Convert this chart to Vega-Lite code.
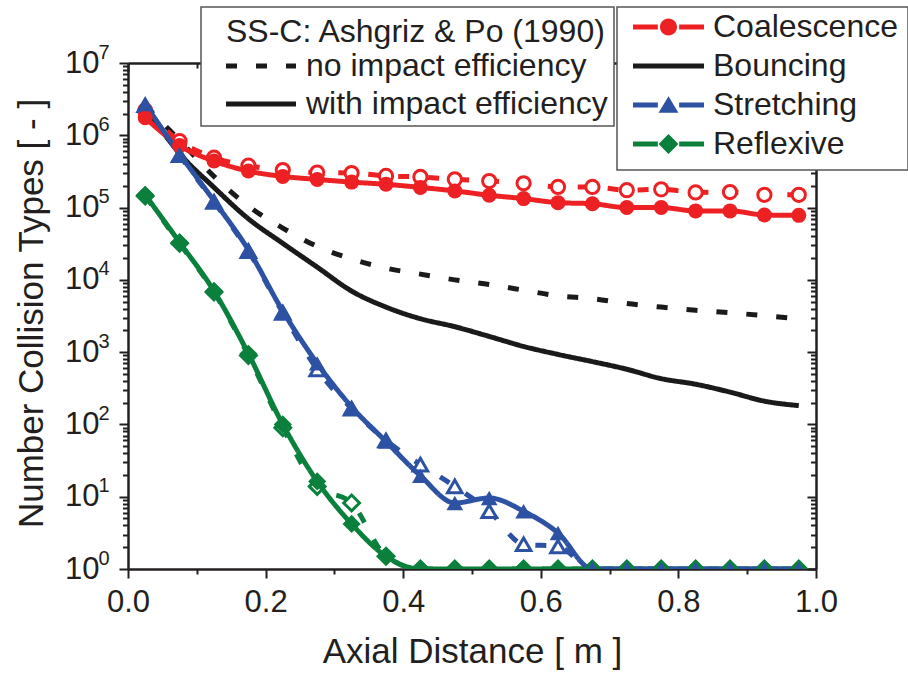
{
  "$schema": "https://vega.github.io/schema/vega-lite/v6.json",
  "width": 688,
  "height": 506,
  "autosize": {"type": "none"},
  "padding": {"left": 128, "top": 63, "right": 92, "bottom": 104},
  "background": "white",
  "config": {
    "font": "Liberation Sans",
    "view": {"stroke": null},
    "axis": {"grid": false, "labelFont": "Liberation Sans", "titleFont": "Liberation Sans", "domainColor": "#231F20", "tickColor": "#231F20", "labelColor": "#231F20", "titleColor": "#231F20", "domainWidth": 2.5, "tickWidth": 2, "titleFontWeight": "normal"},
    "legend": {"labelFont": "Liberation Sans", "titleFont": "Liberation Sans", "labelColor": "#231F20", "titleColor": "#231F20", "labelLimit": 0, "titleLimit": 0, "titleFontWeight": "normal", "strokeColor": "#555555", "fillColor": "white"}
  },
  "datasets": {
    "main": [
      {"distance": 0.025, "type": "Bouncing", "efficiency": "with impact efficiency", "count": 2500000},
      {"distance": 0.075, "type": "Bouncing", "efficiency": "with impact efficiency", "count": 560000},
      {"distance": 0.125, "type": "Bouncing", "efficiency": "with impact efficiency", "count": 190000},
      {"distance": 0.175, "type": "Bouncing", "efficiency": "with impact efficiency", "count": 70000},
      {"distance": 0.225, "type": "Bouncing", "efficiency": "with impact efficiency", "count": 32000},
      {"distance": 0.275, "type": "Bouncing", "efficiency": "with impact efficiency", "count": 15000},
      {"distance": 0.325, "type": "Bouncing", "efficiency": "with impact efficiency", "count": 7000},
      {"distance": 0.375, "type": "Bouncing", "efficiency": "with impact efficiency", "count": 4200},
      {"distance": 0.425, "type": "Bouncing", "efficiency": "with impact efficiency", "count": 2900},
      {"distance": 0.475, "type": "Bouncing", "efficiency": "with impact efficiency", "count": 2250},
      {"distance": 0.525, "type": "Bouncing", "efficiency": "with impact efficiency", "count": 1650},
      {"distance": 0.575, "type": "Bouncing", "efficiency": "with impact efficiency", "count": 1200},
      {"distance": 0.625, "type": "Bouncing", "efficiency": "with impact efficiency", "count": 930},
      {"distance": 0.675, "type": "Bouncing", "efficiency": "with impact efficiency", "count": 740},
      {"distance": 0.725, "type": "Bouncing", "efficiency": "with impact efficiency", "count": 580},
      {"distance": 0.775, "type": "Bouncing", "efficiency": "with impact efficiency", "count": 430},
      {"distance": 0.825, "type": "Bouncing", "efficiency": "with impact efficiency", "count": 360},
      {"distance": 0.875, "type": "Bouncing", "efficiency": "with impact efficiency", "count": 280},
      {"distance": 0.925, "type": "Bouncing", "efficiency": "with impact efficiency", "count": 210},
      {"distance": 0.975, "type": "Bouncing", "efficiency": "with impact efficiency", "count": 182},
      {"distance": 0.025, "type": "Bouncing", "efficiency": "no impact efficiency", "count": 2600000},
      {"distance": 0.075, "type": "Bouncing", "efficiency": "no impact efficiency", "count": 850000},
      {"distance": 0.125, "type": "Bouncing", "efficiency": "no impact efficiency", "count": 270000},
      {"distance": 0.175, "type": "Bouncing", "efficiency": "no impact efficiency", "count": 105000},
      {"distance": 0.225, "type": "Bouncing", "efficiency": "no impact efficiency", "count": 52000},
      {"distance": 0.275, "type": "Bouncing", "efficiency": "no impact efficiency", "count": 29000},
      {"distance": 0.325, "type": "Bouncing", "efficiency": "no impact efficiency", "count": 19500},
      {"distance": 0.375, "type": "Bouncing", "efficiency": "no impact efficiency", "count": 14500},
      {"distance": 0.425, "type": "Bouncing", "efficiency": "no impact efficiency", "count": 12000},
      {"distance": 0.475, "type": "Bouncing", "efficiency": "no impact efficiency", "count": 10000},
      {"distance": 0.525, "type": "Bouncing", "efficiency": "no impact efficiency", "count": 8600},
      {"distance": 0.575, "type": "Bouncing", "efficiency": "no impact efficiency", "count": 7200},
      {"distance": 0.625, "type": "Bouncing", "efficiency": "no impact efficiency", "count": 6000},
      {"distance": 0.675, "type": "Bouncing", "efficiency": "no impact efficiency", "count": 5500},
      {"distance": 0.725, "type": "Bouncing", "efficiency": "no impact efficiency", "count": 4700},
      {"distance": 0.775, "type": "Bouncing", "efficiency": "no impact efficiency", "count": 4200},
      {"distance": 0.825, "type": "Bouncing", "efficiency": "no impact efficiency", "count": 3800},
      {"distance": 0.875, "type": "Bouncing", "efficiency": "no impact efficiency", "count": 3500},
      {"distance": 0.925, "type": "Bouncing", "efficiency": "no impact efficiency", "count": 3200},
      {"distance": 0.975, "type": "Bouncing", "efficiency": "no impact efficiency", "count": 2900},
      {"distance": 0.025, "type": "Coalescence", "efficiency": "with impact efficiency", "count": 1750000},
      {"distance": 0.075, "type": "Coalescence", "efficiency": "with impact efficiency", "count": 720000},
      {"distance": 0.125, "type": "Coalescence", "efficiency": "with impact efficiency", "count": 440000},
      {"distance": 0.175, "type": "Coalescence", "efficiency": "with impact efficiency", "count": 320000},
      {"distance": 0.225, "type": "Coalescence", "efficiency": "with impact efficiency", "count": 270000},
      {"distance": 0.275, "type": "Coalescence", "efficiency": "with impact efficiency", "count": 245000},
      {"distance": 0.325, "type": "Coalescence", "efficiency": "with impact efficiency", "count": 225000},
      {"distance": 0.375, "type": "Coalescence", "efficiency": "with impact efficiency", "count": 210000},
      {"distance": 0.425, "type": "Coalescence", "efficiency": "with impact efficiency", "count": 190000},
      {"distance": 0.475, "type": "Coalescence", "efficiency": "with impact efficiency", "count": 170000},
      {"distance": 0.525, "type": "Coalescence", "efficiency": "with impact efficiency", "count": 148000},
      {"distance": 0.575, "type": "Coalescence", "efficiency": "with impact efficiency", "count": 133000},
      {"distance": 0.625, "type": "Coalescence", "efficiency": "with impact efficiency", "count": 117000},
      {"distance": 0.675, "type": "Coalescence", "efficiency": "with impact efficiency", "count": 113000},
      {"distance": 0.725, "type": "Coalescence", "efficiency": "with impact efficiency", "count": 100000},
      {"distance": 0.775, "type": "Coalescence", "efficiency": "with impact efficiency", "count": 100000},
      {"distance": 0.825, "type": "Coalescence", "efficiency": "with impact efficiency", "count": 90000},
      {"distance": 0.875, "type": "Coalescence", "efficiency": "with impact efficiency", "count": 90000},
      {"distance": 0.925, "type": "Coalescence", "efficiency": "with impact efficiency", "count": 79000},
      {"distance": 0.975, "type": "Coalescence", "efficiency": "with impact efficiency", "count": 78000},
      {"distance": 0.025, "type": "Coalescence", "efficiency": "no impact efficiency", "count": 2200000},
      {"distance": 0.075, "type": "Coalescence", "efficiency": "no impact efficiency", "count": 830000},
      {"distance": 0.125, "type": "Coalescence", "efficiency": "no impact efficiency", "count": 490000},
      {"distance": 0.175, "type": "Coalescence", "efficiency": "no impact efficiency", "count": 380000},
      {"distance": 0.225, "type": "Coalescence", "efficiency": "no impact efficiency", "count": 330000},
      {"distance": 0.275, "type": "Coalescence", "efficiency": "no impact efficiency", "count": 305000},
      {"distance": 0.325, "type": "Coalescence", "efficiency": "no impact efficiency", "count": 300000},
      {"distance": 0.375, "type": "Coalescence", "efficiency": "no impact efficiency", "count": 274000},
      {"distance": 0.425, "type": "Coalescence", "efficiency": "no impact efficiency", "count": 265000},
      {"distance": 0.475, "type": "Coalescence", "efficiency": "no impact efficiency", "count": 246000},
      {"distance": 0.525, "type": "Coalescence", "efficiency": "no impact efficiency", "count": 233000},
      {"distance": 0.575, "type": "Coalescence", "efficiency": "no impact efficiency", "count": 217000},
      {"distance": 0.625, "type": "Coalescence", "efficiency": "no impact efficiency", "count": 193000},
      {"distance": 0.675, "type": "Coalescence", "efficiency": "no impact efficiency", "count": 193000},
      {"distance": 0.725, "type": "Coalescence", "efficiency": "no impact efficiency", "count": 174000},
      {"distance": 0.775, "type": "Coalescence", "efficiency": "no impact efficiency", "count": 179000},
      {"distance": 0.825, "type": "Coalescence", "efficiency": "no impact efficiency", "count": 162000},
      {"distance": 0.875, "type": "Coalescence", "efficiency": "no impact efficiency", "count": 164000},
      {"distance": 0.925, "type": "Coalescence", "efficiency": "no impact efficiency", "count": 150000},
      {"distance": 0.975, "type": "Coalescence", "efficiency": "no impact efficiency", "count": 150000},
      {"distance": 0.025, "type": "Reflexive", "efficiency": "with impact efficiency", "count": 150000},
      {"distance": 0.075, "type": "Reflexive", "efficiency": "with impact efficiency", "count": 33000},
      {"distance": 0.125, "type": "Reflexive", "efficiency": "with impact efficiency", "count": 7000},
      {"distance": 0.175, "type": "Reflexive", "efficiency": "with impact efficiency", "count": 950},
      {"distance": 0.225, "type": "Reflexive", "efficiency": "with impact efficiency", "count": 100},
      {"distance": 0.275, "type": "Reflexive", "efficiency": "with impact efficiency", "count": 16.3},
      {"distance": 0.325, "type": "Reflexive", "efficiency": "with impact efficiency", "count": 4.2},
      {"distance": 0.375, "type": "Reflexive", "efficiency": "with impact efficiency", "count": 1.5},
      {"distance": 0.425, "type": "Reflexive", "efficiency": "with impact efficiency", "count": 1},
      {"distance": 0.475, "type": "Reflexive", "efficiency": "with impact efficiency", "count": 1},
      {"distance": 0.525, "type": "Reflexive", "efficiency": "with impact efficiency", "count": 1},
      {"distance": 0.575, "type": "Reflexive", "efficiency": "with impact efficiency", "count": 1},
      {"distance": 0.625, "type": "Reflexive", "efficiency": "with impact efficiency", "count": 1},
      {"distance": 0.675, "type": "Reflexive", "efficiency": "with impact efficiency", "count": 1},
      {"distance": 0.725, "type": "Reflexive", "efficiency": "with impact efficiency", "count": 1},
      {"distance": 0.775, "type": "Reflexive", "efficiency": "with impact efficiency", "count": 1},
      {"distance": 0.825, "type": "Reflexive", "efficiency": "with impact efficiency", "count": 1},
      {"distance": 0.875, "type": "Reflexive", "efficiency": "with impact efficiency", "count": 1},
      {"distance": 0.925, "type": "Reflexive", "efficiency": "with impact efficiency", "count": 1},
      {"distance": 0.975, "type": "Reflexive", "efficiency": "with impact efficiency", "count": 1},
      {"distance": 0.025, "type": "Reflexive", "efficiency": "no impact efficiency", "count": 145000},
      {"distance": 0.075, "type": "Reflexive", "efficiency": "no impact efficiency", "count": 32000},
      {"distance": 0.125, "type": "Reflexive", "efficiency": "no impact efficiency", "count": 6800},
      {"distance": 0.175, "type": "Reflexive", "efficiency": "no impact efficiency", "count": 900},
      {"distance": 0.225, "type": "Reflexive", "efficiency": "no impact efficiency", "count": 90},
      {"distance": 0.275, "type": "Reflexive", "efficiency": "no impact efficiency", "count": 13.9},
      {"distance": 0.325, "type": "Reflexive", "efficiency": "no impact efficiency", "count": 8.2},
      {"distance": 0.375, "type": "Reflexive", "efficiency": "no impact efficiency", "count": 1.5},
      {"distance": 0.425, "type": "Reflexive", "efficiency": "no impact efficiency", "count": 1},
      {"distance": 0.475, "type": "Reflexive", "efficiency": "no impact efficiency", "count": 1},
      {"distance": 0.525, "type": "Reflexive", "efficiency": "no impact efficiency", "count": 1},
      {"distance": 0.575, "type": "Reflexive", "efficiency": "no impact efficiency", "count": 1},
      {"distance": 0.625, "type": "Reflexive", "efficiency": "no impact efficiency", "count": 1},
      {"distance": 0.675, "type": "Reflexive", "efficiency": "no impact efficiency", "count": 1},
      {"distance": 0.725, "type": "Reflexive", "efficiency": "no impact efficiency", "count": 1},
      {"distance": 0.775, "type": "Reflexive", "efficiency": "no impact efficiency", "count": 1},
      {"distance": 0.825, "type": "Reflexive", "efficiency": "no impact efficiency", "count": 1},
      {"distance": 0.875, "type": "Reflexive", "efficiency": "no impact efficiency", "count": 1},
      {"distance": 0.925, "type": "Reflexive", "efficiency": "no impact efficiency", "count": 1},
      {"distance": 0.975, "type": "Reflexive", "efficiency": "no impact efficiency", "count": 1},
      {"distance": 0.025, "type": "Stretching", "efficiency": "with impact efficiency", "count": 2700000},
      {"distance": 0.075, "type": "Stretching", "efficiency": "with impact efficiency", "count": 550000},
      {"distance": 0.125, "type": "Stretching", "efficiency": "with impact efficiency", "count": 124000},
      {"distance": 0.175, "type": "Stretching", "efficiency": "with impact efficiency", "count": 26000},
      {"distance": 0.225, "type": "Stretching", "efficiency": "with impact efficiency", "count": 3700},
      {"distance": 0.275, "type": "Stretching", "efficiency": "with impact efficiency", "count": 700},
      {"distance": 0.325, "type": "Stretching", "efficiency": "with impact efficiency", "count": 175},
      {"distance": 0.375, "type": "Stretching", "efficiency": "with impact efficiency", "count": 58},
      {"distance": 0.425, "type": "Stretching", "efficiency": "with impact efficiency", "count": 19.5},
      {"distance": 0.475, "type": "Stretching", "efficiency": "with impact efficiency", "count": 8.2},
      {"distance": 0.525, "type": "Stretching", "efficiency": "with impact efficiency", "count": 9.6},
      {"distance": 0.575, "type": "Stretching", "efficiency": "with impact efficiency", "count": 6.3},
      {"distance": 0.625, "type": "Stretching", "efficiency": "with impact efficiency", "count": 3.15},
      {"distance": 0.675, "type": "Stretching", "efficiency": "with impact efficiency", "count": 1},
      {"distance": 0.725, "type": "Stretching", "efficiency": "with impact efficiency", "count": 1},
      {"distance": 0.775, "type": "Stretching", "efficiency": "with impact efficiency", "count": 1},
      {"distance": 0.825, "type": "Stretching", "efficiency": "with impact efficiency", "count": 1},
      {"distance": 0.875, "type": "Stretching", "efficiency": "with impact efficiency", "count": 1},
      {"distance": 0.925, "type": "Stretching", "efficiency": "with impact efficiency", "count": 1},
      {"distance": 0.975, "type": "Stretching", "efficiency": "with impact efficiency", "count": 1},
      {"distance": 0.025, "type": "Stretching", "efficiency": "no impact efficiency", "count": 2600000},
      {"distance": 0.075, "type": "Stretching", "efficiency": "no impact efficiency", "count": 530000},
      {"distance": 0.125, "type": "Stretching", "efficiency": "no impact efficiency", "count": 120000},
      {"distance": 0.175, "type": "Stretching", "efficiency": "no impact efficiency", "count": 25000},
      {"distance": 0.225, "type": "Stretching", "efficiency": "no impact efficiency", "count": 3500},
      {"distance": 0.275, "type": "Stretching", "efficiency": "no impact efficiency", "count": 576},
      {"distance": 0.325, "type": "Stretching", "efficiency": "no impact efficiency", "count": 165},
      {"distance": 0.375, "type": "Stretching", "efficiency": "no impact efficiency", "count": 60},
      {"distance": 0.425, "type": "Stretching", "efficiency": "no impact efficiency", "count": 27.8},
      {"distance": 0.475, "type": "Stretching", "efficiency": "no impact efficiency", "count": 13.9},
      {"distance": 0.525, "type": "Stretching", "efficiency": "no impact efficiency", "count": 6.3},
      {"distance": 0.575, "type": "Stretching", "efficiency": "no impact efficiency", "count": 2.2},
      {"distance": 0.625, "type": "Stretching", "efficiency": "no impact efficiency", "count": 2.05},
      {"distance": 0.675, "type": "Stretching", "efficiency": "no impact efficiency", "count": 1},
      {"distance": 0.725, "type": "Stretching", "efficiency": "no impact efficiency", "count": 1},
      {"distance": 0.775, "type": "Stretching", "efficiency": "no impact efficiency", "count": 1},
      {"distance": 0.825, "type": "Stretching", "efficiency": "no impact efficiency", "count": 1},
      {"distance": 0.875, "type": "Stretching", "efficiency": "no impact efficiency", "count": 1},
      {"distance": 0.925, "type": "Stretching", "efficiency": "no impact efficiency", "count": 1},
      {"distance": 0.975, "type": "Stretching", "efficiency": "no impact efficiency", "count": 1}
    ]
  },
  "data": {"name": "main"},
  "resolve": {"axis": {"x": "independent", "y": "independent"}, "scale": {"size": "independent"}},
  "layer": [
    {
      "transform": [{"filter": "datum.efficiency === 'no impact efficiency'"}],
      "mark": {"type": "line", "strokeWidth": 5, "interpolate": "monotone", "clip": true, "strokeCap": "butt"},
      "encoding": {
        "x": {"field": "distance", "type": "quantitative", "scale": {"domain": [0, 1]},
          "axis": {"orient": "bottom", "values": [0, 0.2, 0.4, 0.6, 0.8, 1], "format": ".1f", "labelFontSize": 31, "labelPadding": 9, "labelFlush": false, "tickSize": 9, "title": "Axial Distance [ m ]", "titleFontSize": 35, "titleY": 93, "titleBaseline": "alphabetic"}},
        "y": {"field": "count", "type": "quantitative", "scale": {"type": "log", "domain": [1, 10000000]},
          "axis": {"orient": "left", "values": [1, 10, 100, 1000, 10000, 100000, 1000000, 10000000], "labelExpr": "'10'", "labelFontSize": 31, "labelPadding": 20, "tickSize": 9, "title": "Number Collision Types [ - ]", "titleFontSize": 35, "titleX": -86, "titleY": 250, "titleAngle": 270, "titleBaseline": "alphabetic", "titleAlign": "center"}},
        "color": {"field": "type", "type": "nominal",
          "scale": {"domain": ["Coalescence", "Bouncing", "Stretching", "Reflexive"], "range": ["#ED2024", "#1A1A1A", "#2E52A3", "#0B803D"]},
          "legend": {"title": null, "orient": "none", "legendX": 489, "legendY": -56, "padding": 10, "labelFontSize": 32, "symbolSize": 5041, "symbolStrokeWidth": 0, "symbolOffset": 6, "labelOffset": 9, "clipHeight": 20, "rowPadding": 7,
            "encode": {
              "legend": {"update": {"strokeWidth": {"value": 1.5}}},
              "symbols": {"update": {
                "shape": {"signal": "datum.value === 'Coalescence' ? 'M-1,-0.07H-0.3V0.07H-1Z M0.3,-0.07H1V0.07H0.3Z M-0.24,0A0.24,0.24 0 1,0 0.24,0A0.24,0.24 0 1,0 -0.24,0Z' : datum.value === 'Bouncing' ? 'M-1,-0.07H1V0.07H-1Z' : datum.value === 'Stretching' ? 'M-1,-0.07H-0.3V0.07H-1Z M0.3,-0.07H1V0.07H0.3Z M0,-0.25L0.28,0.22L-0.28,0.22Z' : 'M-1,-0.07H-0.3V0.07H-1Z M0.3,-0.07H1V0.07H0.3Z M0,-0.28L0.28,0L0,0.28L-0.28,0Z'"},
                "fill": {"signal": "datum.value === 'Coalescence' ? '#ED2024' : datum.value === 'Bouncing' ? '#1A1A1A' : datum.value === 'Stretching' ? '#2E52A3' : '#0B803D'"},
                "fillOpacity": {"value": 1},
                "stroke": {"value": "transparent"},
                "strokeWidth": {"value": 0}
              }}
            }}},
        "strokeDash": {"field": "efficiency", "type": "nominal",
          "scale": {"domain": ["no impact efficiency", "with impact efficiency"], "range": [[11, 19], [1, 0]]},
          "legend": {"title": "SS-C: Ashgriz & Po (1990)", "orient": "none", "legendX": 73, "legendY": -56, "padding": 6, "titleFontSize": 32, "titlePadding": 11, "labelFontSize": 32, "symbolType": "stroke", "symbolSize": 4900, "symbolStrokeWidth": 5, "symbolStrokeColor": "#1A1A1A", "symbolOffset": 16.5, "labelOffset": 7.5, "clipHeight": 20, "rowPadding": 6,
            "encode": {
              "legend": {"update": {"strokeWidth": {"value": 1.5}}},
              "title": {"update": {"dx": {"value": 19}, "dy": {"value": 4}}},
              "symbols": {"update": {"strokeDash": {"signal": "datum.value === 'no impact efficiency' ? [9, 13] : [1, 0]"}, "stroke": {"value": "#1A1A1A"}}}
            }}}
      }
    },
    {
      "transform": [{"filter": "datum.efficiency === 'no impact efficiency' && datum.type !== 'Bouncing'"}],
      "mark": {"type": "point", "filled": false, "fill": "white", "fillOpacity": 1, "strokeWidth": 3, "opacity": 1, "clip": true},
      "encoding": {
        "x": {"field": "distance", "type": "quantitative", "scale": {"domain": [0, 1]}, "axis": null},
        "y": {"field": "count", "type": "quantitative", "scale": {"type": "log", "domain": [1, 10000000]}, "axis": null},
        "color": {"field": "type", "type": "nominal", "scale": {"domain": ["Coalescence", "Bouncing", "Stretching", "Reflexive"], "range": ["#ED2024", "#1A1A1A", "#2E52A3", "#0B803D"]}, "legend": null},
        "shape": {"field": "type", "type": "nominal", "scale": {"domain": ["Coalescence", "Stretching", "Reflexive"], "range": ["circle", "triangle-up", "diamond"]}, "legend": null},
        "size": {"field": "type", "type": "nominal", "scale": {"domain": ["Coalescence", "Stretching", "Reflexive"], "range": [175, 250, 200]}, "legend": null}
      }
    },
    {
      "transform": [{"filter": "datum.efficiency === 'with impact efficiency'"}],
      "mark": {"type": "line", "strokeWidth": 5, "interpolate": "monotone", "clip": true, "strokeCap": "butt"},
      "encoding": {
        "x": {"field": "distance", "type": "quantitative", "scale": {"domain": [0, 1]}, "axis": null},
        "y": {"field": "count", "type": "quantitative", "scale": {"type": "log", "domain": [1, 10000000]}, "axis": null},
        "color": {"field": "type", "type": "nominal", "scale": {"domain": ["Coalescence", "Bouncing", "Stretching", "Reflexive"], "range": ["#ED2024", "#1A1A1A", "#2E52A3", "#0B803D"]}, "legend": null},
        "strokeDash": {"field": "efficiency", "type": "nominal", "scale": {"domain": ["no impact efficiency", "with impact efficiency"], "range": [[11, 19], [1, 0]]}, "legend": null}
      }
    },
    {
      "transform": [{"filter": "datum.efficiency === 'with impact efficiency' && datum.type !== 'Bouncing'"}],
      "mark": {"type": "point", "filled": true, "opacity": 1, "clip": true},
      "encoding": {
        "x": {"field": "distance", "type": "quantitative", "scale": {"domain": [0, 1]}, "axis": null},
        "y": {"field": "count", "type": "quantitative", "scale": {"type": "log", "domain": [1, 10000000]}, "axis": null},
        "color": {"field": "type", "type": "nominal", "scale": {"domain": ["Coalescence", "Bouncing", "Stretching", "Reflexive"], "range": ["#ED2024", "#1A1A1A", "#2E52A3", "#0B803D"]}, "legend": null},
        "shape": {"field": "type", "type": "nominal", "scale": {"domain": ["Coalescence", "Stretching", "Reflexive"], "range": ["circle", "triangle-up", "diamond"]}, "legend": null},
        "size": {"field": "type", "type": "nominal", "scale": {"domain": ["Coalescence", "Stretching", "Reflexive"], "range": [225, 330, 300]}, "legend": null}
      }
    },
    {
      "mark": {"type": "point", "opacity": 0},
      "encoding": {
        "x": {"field": "distance", "type": "quantitative", "scale": {"domain": [0, 1]},
          "axis": {"orient": "bottom", "values": [0.1, 0.3, 0.5, 0.7, 0.9], "labels": false, "domain": false, "tickSize": 5, "title": null}},
        "y": {"field": "count", "type": "quantitative", "scale": {"type": "log", "domain": [1, 10000000]},
          "axis": {"orient": "left", "values": [2,3,4,5,6,7,8,9,20,30,40,50,60,70,80,90,200,300,400,500,600,700,800,900,2000,3000,4000,5000,6000,7000,8000,9000,20000,30000,40000,50000,60000,70000,80000,90000,200000,300000,400000,500000,600000,700000,800000,900000,2000000,3000000,4000000,5000000,6000000,7000000,8000000,9000000], "labels": false, "domain": false, "tickSize": 5.5, "title": null}}
      }
    },
    {
      "mark": {"type": "point", "opacity": 0},
      "encoding": {
        "x": {"field": "distance", "type": "quantitative", "scale": {"domain": [0, 1]},
          "axis": {"orient": "top", "values": [0, 0.2, 0.4, 0.6, 0.8, 1], "labels": false, "tickSize": -9, "title": null}},
        "y": {"field": "count", "type": "quantitative", "scale": {"type": "log", "domain": [1, 10000000]},
          "axis": {"orient": "right", "values": [1, 10, 100, 1000, 10000, 100000, 1000000, 10000000], "labels": false, "tickSize": -9, "title": null}}
      }
    },
    {
      "mark": {"type": "point", "opacity": 0},
      "encoding": {
        "x": {"field": "distance", "type": "quantitative", "scale": {"domain": [0, 1]},
          "axis": {"orient": "top", "values": [0.1, 0.3, 0.5, 0.7, 0.9], "labels": false, "domain": false, "tickSize": -5, "title": null}},
        "y": {"field": "count", "type": "quantitative", "scale": {"type": "log", "domain": [1, 10000000]},
          "axis": {"orient": "right", "values": [2,3,4,5,6,7,8,9,20,30,40,50,60,70,80,90,200,300,400,500,600,700,800,900,2000,3000,4000,5000,6000,7000,8000,9000,20000,30000,40000,50000,60000,70000,80000,90000,200000,300000,400000,500000,600000,700000,800000,900000,2000000,3000000,4000000,5000000,6000000,7000000,8000000,9000000], "labels": false, "domain": false, "tickSize": -5.5, "title": null}}
      }
    },
    {
      "mark": {"type": "point", "opacity": 0},
      "encoding": {
        "x": {"field": "distance", "type": "quantitative", "scale": {"domain": [0, 1]}, "axis": null},
        "y": {"field": "count", "type": "quantitative", "scale": {"type": "log", "domain": [1, 10000000]},
          "axis": {"orient": "left", "values": [1, 10, 100, 1000, 10000, 100000, 1000000, 10000000], "labelExpr": "format(round(log(datum.value) / LN10), 'd')", "labelFontSize": 20, "labelPadding": 10, "labelOffset": -11, "tickSize": 9, "tickOpacity": 0, "domain": false, "title": null}}
      }
    }
  ]
}
